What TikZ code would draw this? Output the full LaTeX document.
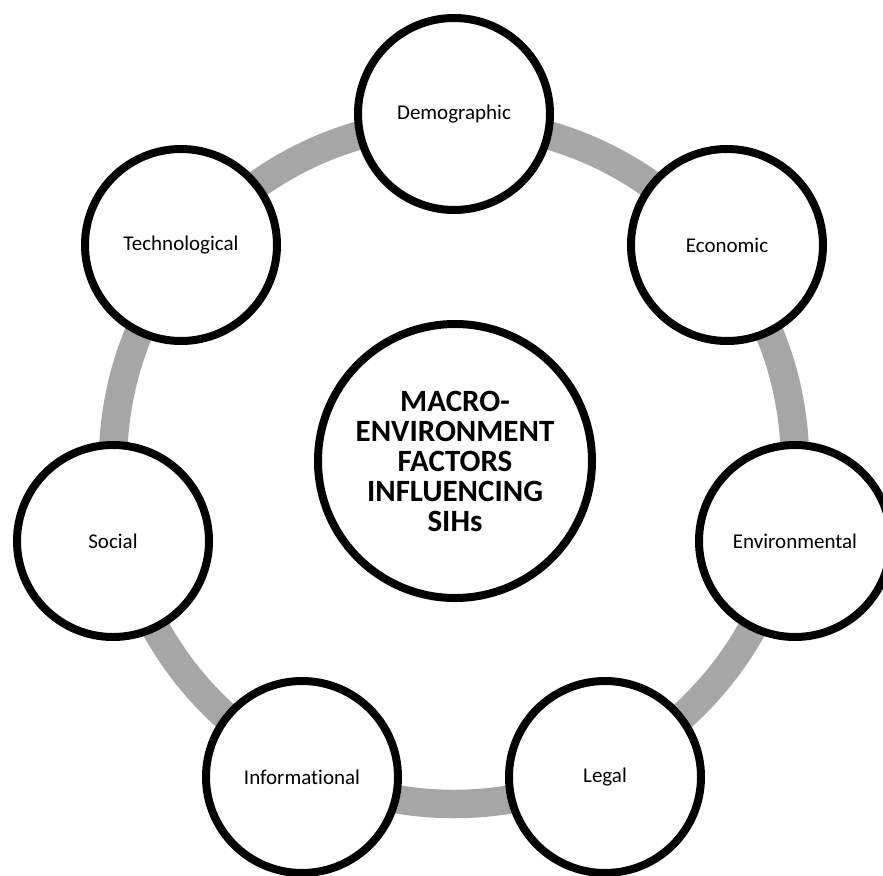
\documentclass[tikz,border=0pt]{standalone}
\usepackage{fontspec}
\setmainfont{Carlito}[Ligatures=NoCommon]
\usetikzlibrary{shadows}
\definecolor{ringgray}{HTML}{A6A6A6}
\begin{document}
\begin{tikzpicture}[x=1pt,y=-1pt,
  factor/.style={circle, draw=black, line width=8pt, fill=white,
    minimum size=192pt, inner sep=0pt, align=center,
    font=\fontsize{21}{25}\selectfont,
    drop shadow={opacity=0.25, shadow xshift=2pt, shadow yshift=-3pt}},
  hub/.style={factor, minimum size=274pt,
    font=\bfseries\fontsize{31}{30}\selectfont},
  ring/.style={draw=ringgray, line width=28.5pt}]
\clip (0,0) rectangle (883,875);
\fill[white] (0,0) rectangle (883,875);
\coordinate (c) at (454,463);
\draw[ring] (c) circle[radius=341pt];
\node[hub] (hub) at (455,461) {MACRO-\\ENVIRONMENT\\FACTORS\\INFLUENCING\\SIHs};
\node[factor] (dem) at (454,114) {Demographic};
\node[factor] (eco) at (727,245) {Economic};
\node[factor] (env) at (795,541) {Environmental};
\node[factor] (leg) at (605,777) {Legal};
\node[factor] (inf) at (302,777) {Informational};
\node[factor] (soc) at (113,541) {Social};
\node[factor] (tec) at (181,245) {Technological};
\end{tikzpicture}
\end{document}
